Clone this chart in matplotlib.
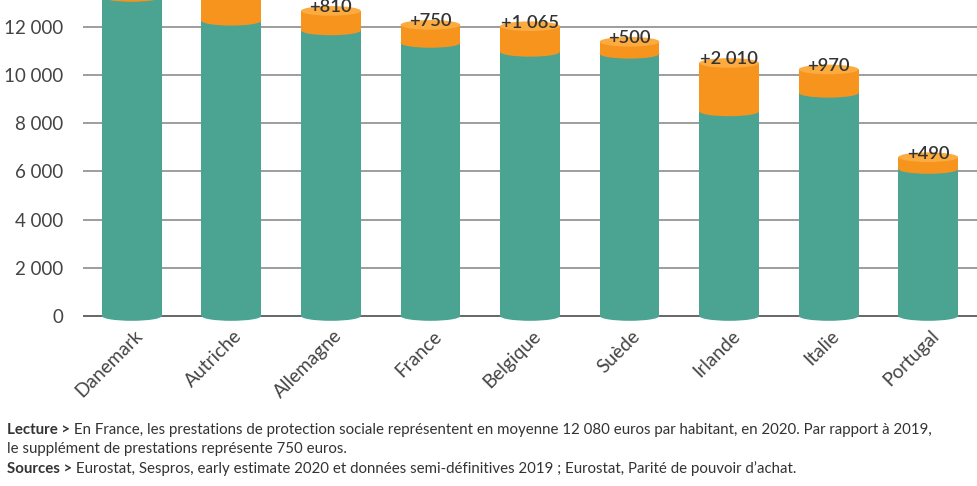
import matplotlib.pyplot as plt
from matplotlib.patches import Ellipse
from matplotlib.transforms import ScaledTranslation

plt.rcParams['font.family'] = ['Lato', 'DejaVu Sans']

pays = ["Danemark", "Autriche", "Allemagne", "France", "Belgique",
        "Suède", "Irlande", "Italie", "Portugal"]
# prestations 2019 (base) et supplément 2020
base_2019 = [13240, 12250, 11850, 11330, 10960, 10880, 8490, 9260, 6100]
supplement = [700, 1200, 810, 750, 1065, 500, 2010, 970, 490]
labels_sup = ["+700", "+1 200", "+810", "+750", "+1 065", "+500", "+2 010", "+970", "+490"]
yticks = [0, 2000, 4000, 6000, 8000, 10000, 12000]

vert = "#4ba392"
orange = "#f7941e"
orange_clair = "#fbab3f"
W, H = 978, 486

fig = plt.figure(figsize=(W / 100, H / 100), dpi=100)

# axes: 0 at y=316px, 24.1 px per 1000
ppk = 24.1
ytop = 316 / ppk * 1000
ybot = -600
bot_px = 316 + (-ybot) / 1000 * ppk
ax = fig.add_axes([83 / W, 1 - bot_px / H, 1 - 83 / W, bot_px / H])
ax.set_ylim(ybot, ytop)
ax.set_xlim(-0.49, 8.5)

w = 0.6
eh = 400
x = list(range(len(pays)))
totaux = [b + s for b, s in zip(base_2019, supplement)]

ax.bar(x, base_2019, width=w, color=vert, zorder=2)
ax.bar(x, supplement, bottom=base_2019, width=w, color=orange, zorder=2)
for i in x:
    ax.add_patch(Ellipse((i, 0), w, eh, color=vert, zorder=3, lw=0))
    ax.add_patch(Ellipse((i, base_2019[i]), w, eh, color=orange, zorder=3, lw=0))
    ax.add_patch(Ellipse((i, totaux[i]), w, eh, color=orange_clair, zorder=4, lw=0))
    if totaux[i] < ytop - 300:
        ax.text(i, totaux[i] - 60, labels_sup[i], ha="center", va="baseline",
                fontsize=13.2, color="#333333", fontweight="semibold", zorder=5)

for t in yticks[1:]:
    ax.axhline(t, color="#8c8c8c", lw=1.2, zorder=1)
ax.axhline(0, color="#666666", lw=1.4, zorder=1)

ax.set_yticks(yticks)
ax.set_yticklabels([f"{t:,}".replace(",", " ") for t in yticks],
                   fontsize=13.5, color="#444444")
ax.tick_params(axis="y", length=0, pad=14)
ax.set_xticks(x)
ax.set_xticklabels(pays, rotation=45, ha="right", va="center",
                   rotation_mode="anchor", fontsize=13.8, color="#444444")
ax.tick_params(axis="x", length=0, pad=2)
shift = ScaledTranslation(0.08, 0, fig.dpi_scale_trans)
for lab in ax.get_xticklabels():
    lab.set_transform(lab.get_transform() + shift)
for s in ax.spines.values():
    s.set_visible(False)

# notes
renderer = fig.canvas.get_renderer()
notes = [
    (430, "Lecture >", " En France, les prestations de protection sociale représentent en moyenne 12 080 euros par habitant, en 2020. Par rapport à 2019,"),
    (449, "", "le supplément de prestations représente 750 euros."),
    (469, "Sources >", " Eurostat, Sespros, early estimate 2020 et données semi-définitives 2019 ; Eurostat, Parité de pouvoir d’achat."),
]
for ypx, bold, txt in notes:
    xpos = 7 / W
    if bold:
        tb = fig.text(xpos, 1 - ypx / H, bold, fontsize=10.8, fontweight="bold",
                      color="#333333", va="center")
        xpos += tb.get_window_extent(renderer).width / W
    fig.text(xpos, 1 - ypx / H, txt, fontsize=10.8, color="#333333", va="center")

fig.savefig("out.png", dpi=100)
